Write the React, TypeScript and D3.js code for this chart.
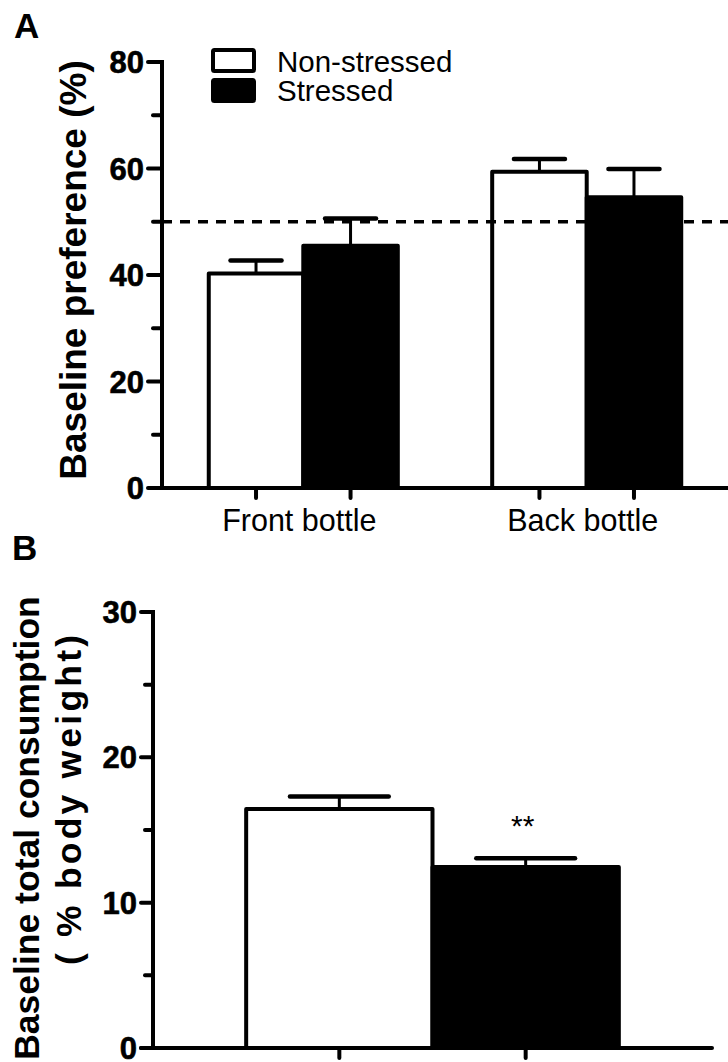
import React from "react";
import * as d3 from "d3";

const groupsA = ["Front bottle", "Back bottle"];
const seriesNames = ["Non-stressed", "Stressed"];
const meanA = [
  [40.3, 45.5],
  [59.4, 54.6],
];
const semA = [
  [2.4, 5.1],
  [2.4, 5.3],
];
const ticksAMajor = [0, 20, 40, 60, 80];
const ticksAMinor = [10, 30, 50, 70];
const chanceLevel = 50;

const meanB = [16.45, 12.45];
const semB = [0.85, 0.6];
const ticksBMajor = [0, 10, 20, 30];
const ticksBMinor = [5, 15, 25];
const sigB = ["", "**"];

const FONT = "'Liberation Sans', Arial, Helvetica, sans-serif";
const fills = ["#ffffff", "#000000"];

export default function App() {
  // Panel A scales
  const yA = d3.scaleLinear().domain([0, 80]).range([488, 62]);
  const xA = d3.scaleBand().domain(groupsA).range([162, 728]).paddingInner(0.333).paddingOuter(0.165);
  const xAin = d3.scaleBand().domain(seriesNames).range([0, xA.bandwidth()]).padding(0);
  const axAx = 162;

  // Panel B scales
  const yB = d3.scaleLinear().domain([0, 30]).range([1048, 612]);
  const xB = d3.scaleBand().domain(seriesNames).range([153, 712]).paddingInner(0).paddingOuter(0.5);
  const axBx = 153;

  const SW = 4;

  return (
    <svg width={728} height={1062} style={{ position: "absolute", left: 0, top: 0, background: "#fff" }} fontFamily={FONT}>
      <rect x={0} y={0} width={728} height={1062} fill="#fff" />
      {/* Panel letters */}
      <text x={14} y={38} fontSize={35} fontWeight="bold">A</text>
      <text x={12} y={560} fontSize={35} fontWeight="bold">B</text>

      {/* ===== Panel A ===== */}
      <text transform={`translate(86, ${(62 + 478) / 2}) rotate(-90)`} textAnchor="middle" fontSize={37} fontWeight="bold">
        Baseline preference (%)
      </text>

      {groupsA.map((g, gi) =>
        seriesNames.map((s, si) => {
          const x0 = (xA(g) as number) + (xAin(s) as number);
          const w = xAin.bandwidth();
          const top = yA(meanA[gi][si]);
          const errTop = yA(meanA[gi][si] + semA[gi][si]);
          const cx = x0 + w / 2;
          const capW = w * 0.54;
          return (
            <g key={g + s}>
              <line x1={cx} x2={cx} y1={top} y2={errTop} stroke="#000" strokeWidth={3} />
              <line x1={cx - capW / 2} x2={cx + capW / 2} y1={errTop} y2={errTop} stroke="#000" strokeWidth={4.5} strokeLinecap="round" />
              <rect x={x0} y={top} width={w} height={yA(0) - top} fill={fills[si]} stroke="#000" strokeWidth={SW} strokeLinejoin="round" />
            </g>
          );
        })
      )}

      <line x1={axAx} x2={728} y1={yA(chanceLevel)} y2={yA(chanceLevel)} stroke="#000" strokeWidth={3.5} strokeDasharray="10 8" />

      <line x1={axAx} x2={axAx} y1={yA(0) + 2} y2={yA(80) - 2} stroke="#000" strokeWidth={SW} />
      {ticksAMajor.map((t) => (
        <g key={"am" + t}>
          <line x1={axAx - 14} x2={axAx} y1={yA(t)} y2={yA(t)} stroke="#000" strokeWidth={SW} strokeLinecap="round" />
          <text x={144} y={yA(t)} dy="0.36em" textAnchor="end" fontSize={31} fontWeight="bold" stroke="#000" strokeWidth={0.6}>{t}</text>
        </g>
      ))}
      {ticksAMinor.map((t) => (
        <line key={"an" + t} x1={axAx - 9} x2={axAx} y1={yA(t)} y2={yA(t)} stroke="#000" strokeWidth={SW} strokeLinecap="round" />
      ))}
      <line x1={axAx - 14} x2={728} y1={yA(0)} y2={yA(0)} stroke="#000" strokeWidth={SW} />
      {groupsA.map((g) =>
        seriesNames.map((s) => {
          const cx = (xA(g) as number) + (xAin(s) as number) + xAin.bandwidth() / 2;
          return <line key={"xt" + g + s} x1={cx} x2={cx} y1={yA(0)} y2={yA(0) + 10} stroke="#000" strokeWidth={SW} strokeLinecap="round" />;
        })
      )}
      {groupsA.map((g) => (
        <text key={"xl" + g} x={(xA(g) as number) + xA.bandwidth() / 2 - 4} y={531} textAnchor="middle" fontSize={30.5}>{g}</text>
      ))}

      {seriesNames.map((s, i) => (
        <g key={"lg" + s}>
          <rect x={213} y={50 + i * 30} width={41} height={21} fill={fills[i]} stroke="#000" strokeWidth={SW} rx={1.5} />
          <text x={277} y={72 + i * 29} fontSize={29.5}>{s}</text>
        </g>
      ))}

      {/* ===== Panel B ===== */}
      <text transform={`translate(39, 828) rotate(-90)`} textAnchor="middle" fontSize={35.5} fontWeight="bold">
        Baseline total consumption
      </text>
      <text transform={`translate(81, 800) rotate(-90)`} textAnchor="middle" fontSize={35.5} fontWeight="bold" textLength={330} lengthAdjust="spacing">
        ( % body weight)
      </text>

      {seriesNames.map((s, i) => {
        const x0 = xB(s) as number;
        const w = xB.bandwidth();
        const top = yB(meanB[i]);
        const errTop = yB(meanB[i] + semB[i]);
        const cx = x0 + w / 2;
        const capW = w * 0.53;
        return (
          <g key={"b" + s}>
            <line x1={cx} x2={cx} y1={top} y2={errTop} stroke="#000" strokeWidth={3} />
            <line x1={cx - capW / 2} x2={cx + capW / 2} y1={errTop} y2={errTop} stroke="#000" strokeWidth={4.5} strokeLinecap="round" />
            <rect x={x0} y={top} width={w} height={yB(0) - top} fill={fills[i]} stroke="#000" strokeWidth={SW} strokeLinejoin="round" />
            {sigB[i] && (
              <text x={cx - 3} y={yB(meanB[i] + semB[i]) - 22} textAnchor="middle" fontSize={30}>{sigB[i]}</text>
            )}
          </g>
        );
      })}

      <line x1={axBx} x2={axBx} y1={yB(0) + 2} y2={yB(30) - 2} stroke="#000" strokeWidth={SW} />
      {ticksBMajor.map((t) => (
        <g key={"bm" + t}>
          <line x1={axBx - 12} x2={axBx} y1={yB(t)} y2={yB(t)} stroke="#000" strokeWidth={SW} strokeLinecap="round" />
          <text x={137} y={yB(t)} dy="0.36em" textAnchor="end" fontSize={31} fontWeight="bold" stroke="#000" strokeWidth={0.6}>{t}</text>
        </g>
      ))}
      {ticksBMinor.map((t) => (
        <line key={"bn" + t} x1={axBx - 8} x2={axBx} y1={yB(t)} y2={yB(t)} stroke="#000" strokeWidth={SW} strokeLinecap="round" />
      ))}
      <line x1={axBx - 12} x2={712} y1={yB(0)} y2={yB(0)} stroke="#000" strokeWidth={SW} strokeLinecap="round" />
      {seriesNames.map((s) => {
        const cx = (xB(s) as number) + xB.bandwidth() / 2;
        return <line key={"bxt" + s} x1={cx} x2={cx} y1={yB(0)} y2={yB(0) + 10} stroke="#000" strokeWidth={SW} strokeLinecap="round" />;
      })}
    </svg>
  );
}
